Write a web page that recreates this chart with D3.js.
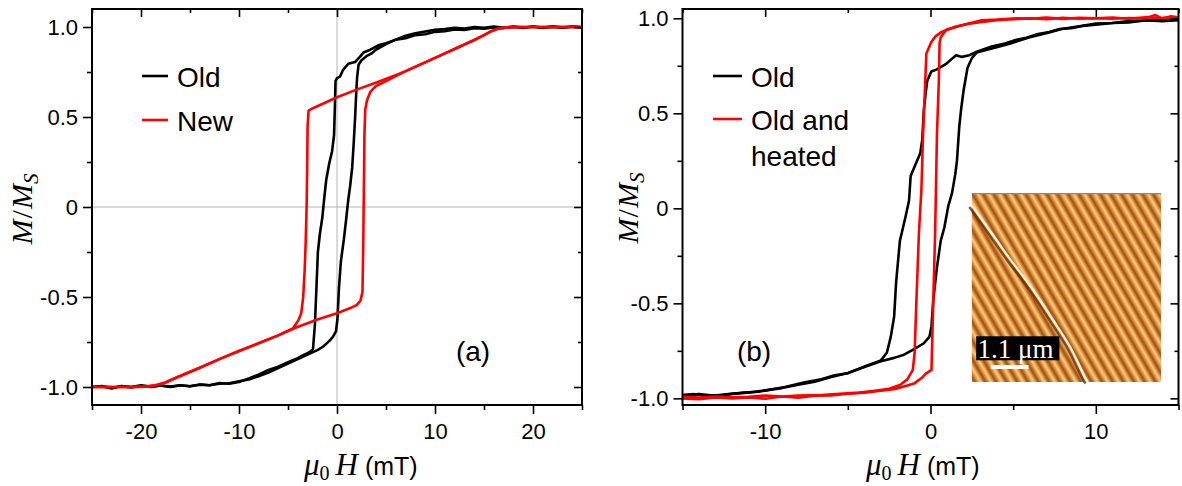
<!DOCTYPE html>
<html><head><meta charset="utf-8">
<script src="https://cdn.jsdelivr.net/npm/d3@7"></script>
<style>body{margin:0;background:#fff}svg{display:block}</style>
</head><body>
<svg id="c" width="1182" height="486"></svg>
<script>
// ---------- tick values / labels ----------
const yTicks = [-1, -0.5, 0, 0.5, 1];
const yTickLabels = ["-1.0", "-0.5", "0", "0.5", "1.0"];
const yMinor = [-0.75, -0.25, 0.25, 0.75];
const xTicksA = [-20, -10, 0, 10, 20];
const xTickLabelsA = ["-20", "-10", "0", "10", "20"];
const xMinorA = [-25, -15, -5, 5, 15, 25];
const xTicksB = [-10, 0, 10];
const xTickLabelsB = ["-10", "0", "10"];
const xMinorB = [-15, -5, 5, 15];
const legendA = ["Old", "New"];
const legendB = ["Old", "Old and", "heated"];

// ---------- panel (a) : Old (black), descending & ascending branches [H (mT), M/Ms] ----------
const oldA_down = [[25,0.998],[24,1.003],[23,0.996],[22,1.002],[21,0.997],[20,1.003],[19,0.995],[18,1.0],[17,0.994],[16,0.998],[15,0.99],[14,0.993],[13,0.984],[12,0.986],[11,0.976],[10,0.973],[9,0.96],[8,0.955],[7,0.938],[6,0.93],[5,0.91],[4.3,0.9],[3.4,0.874],[2.7,0.858],[2.35,0.835],[1.84,0.805],[1.15,0.796],[0.6,0.76],[0.3,0.724],[0.0,0.716],[-0.15,0.70],[-0.22,0.55],[-0.3,0.40],[-0.5,0.31],[-0.8,0.24],[-1.1,0.15],[-1.3,0.05],[-1.5,-0.06],[-1.75,-0.15],[-1.95,-0.25],[-2.1,-0.45],[-2.25,-0.65],[-2.45,-0.79],[-2.9,-0.81],[-3.5,-0.825],[-4,-0.84],[-5,-0.862],[-6,-0.887],[-7,-0.905],[-8,-0.932],[-9,-0.952],[-10,-0.972],[-11,-0.982],[-12,-0.978],[-13,-0.99],[-14,-0.986],[-15,-0.996],[-16,-0.99],[-17,-1.0],[-18,-0.992],[-19,-0.998],[-20,-0.99],[-21,-1.0],[-22,-0.994],[-23,-1.008],[-24,-0.996],[-25,-1.0]];
const oldA_up = [[-25,-1.0],[-24,-0.995],[-23,-1.004],[-22,-0.996],[-21,-1.002],[-20,-0.994],[-19,-1.0],[-18,-0.992],[-17,-0.998],[-16,-0.99],[-15,-0.996],[-14,-0.987],[-13,-0.99],[-12,-0.982],[-11,-0.979],[-10,-0.968],[-9,-0.958],[-8,-0.94],[-7,-0.92],[-6,-0.895],[-5,-0.87],[-4,-0.845],[-3,-0.82],[-2,-0.795],[-1.4,-0.775],[-0.8,-0.745],[-0.4,-0.72],[-0.1,-0.69],[0.05,-0.62],[0.2,-0.45],[0.4,-0.30],[0.7,-0.18],[0.95,-0.06],[1.15,0.04],[1.35,0.12],[1.55,0.22],[1.7,0.35],[1.85,0.5],[1.95,0.62],[2.05,0.72],[2.2,0.79],[2.5,0.815],[3.0,0.838],[3.5,0.852],[4,0.875],[5,0.905],[6,0.93],[7,0.952],[8,0.965],[9,0.975],[10,0.985],[11,0.988],[12,0.995],[13,0.992],[14,1.0],[15,0.995],[16,1.002],[17,0.996],[18,1.003],[19,0.997],[20,1.001],[21,0.995],[22,1.002],[23,0.998],[24,1.001],[25,0.998]];

// ---------- panel (a) : New (red) ----------
const newA_down = [[25,1.0],[21,1.0],[18.5,1.0],[17.2,0.997],[16.4,0.99],[15.8,0.978],[15,0.955],[13.9,0.925],[12.5,0.89],[10.4,0.838],[6.9,0.752],[4.1,0.693],[2,0.652],[0,0.61],[-2,0.56],[-2.5,0.548],[-2.9,0.535],[-3.0,0.45],[-3.05,0.2],[-3.1,0.0],[-3.2,-0.2],[-3.3,-0.35],[-3.45,-0.5],[-3.65,-0.59],[-3.95,-0.63],[-4.5,-0.675],[-6,-0.713],[-8,-0.757],[-10,-0.8],[-12,-0.845],[-14,-0.893],[-16.6,-0.953],[-17.5,-0.975],[-18.5,-0.99],[-19.5,-0.998],[-21,-1.0],[-25,-1.0]];
const newA_up = [[-25,-1.0],[-21,-1.0],[-19.5,-0.998],[-18.5,-0.99],[-17.5,-0.975],[-16.6,-0.953],[-14,-0.893],[-12,-0.845],[-10,-0.8],[-8,-0.757],[-6,-0.713],[-4.3,-0.672],[-2,-0.625],[0,-0.59],[1.5,-0.558],[2.0,-0.545],[2.4,-0.52],[2.6,-0.47],[2.68,-0.2],[2.74,0.1],[2.8,0.4],[2.88,0.54],[3.05,0.59],[3.4,0.64],[3.93,0.67],[5.2,0.705],[6.9,0.752],[10.4,0.838],[12.5,0.89],[13.9,0.925],[15,0.955],[15.8,0.978],[16.4,0.99],[17.2,0.997],[18.5,1.0],[21,1.0],[25,1.0]];

// ---------- panel (b) : Old (black) ----------
const oldB_down = [[15,0.99],[14,0.985],[13,0.99],[12,0.978],[11,0.975],[10,0.966],[9.2,0.96],[8.5,0.948],[7.8,0.944],[7.2,0.928],[6.5,0.917],[5.8,0.898],[5.2,0.887],[4.5,0.868],[3.7,0.852],[2.8,0.824],[2.35,0.806],[1.9,0.797],[1.55,0.806],[1.2,0.78],[0.95,0.76],[0.35,0.73],[0.05,0.72],[-0.2,0.67],[-0.3,0.6],[-0.4,0.52],[-0.5,0.36],[-0.62,0.29],[-0.96,0.22],[-1.2,0.17],[-1.3,0.04],[-1.5,-0.04],[-1.74,-0.13],[-1.85,-0.17],[-2.08,-0.39],[-2.2,-0.57],[-2.4,-0.675],[-2.64,-0.76],[-3.0,-0.80],[-3.9,-0.83],[-5.0,-0.868],[-5.8,-0.878],[-6.6,-0.90],[-7.6,-0.915],[-8.8,-0.94],[-10.4,-0.965],[-11.3,-0.97],[-12.2,-0.98],[-13.5,-0.986],[-14.3,-0.978],[-15,-0.982]];
const oldB_up = [[-15,-0.985],[-14,-0.978],[-13,-0.986],[-12,-0.975],[-11,-0.97],[-10,-0.958],[-9,-0.946],[-8,-0.928],[-7,-0.912],[-6,-0.888],[-5,-0.866],[-4,-0.835],[-3,-0.805],[-2.2,-0.787],[-1.6,-0.77],[-0.96,-0.74],[-0.4,-0.71],[-0.06,-0.675],[0.06,-0.62],[0.17,-0.48],[0.39,-0.31],[0.62,-0.17],[0.84,-0.10],[1.07,0.01],[1.3,0.08],[1.5,0.18],[1.6,0.25],[1.74,0.43],[1.85,0.52],[2.0,0.62],[2.24,0.74],[2.5,0.79],[2.8,0.82],[3.3,0.832],[4,0.848],[5,0.872],[6,0.9],[7,0.922],[8,0.945],[9,0.958],[10,0.972],[11,0.975],[12,0.985],[13,0.988],[14,0.995],[15,0.993]];

// ---------- panel (b) : Old and heated (red) ----------
const heatB_down = [[15,1.005],[14.5,1.01],[14,1.0],[13,1.006],[12,0.998],[11,1.004],[10,1.0],[9,1.003],[8,0.997],[7,1.004],[6,0.998],[5.2,1.0],[4,0.993],[3.1,0.99],[2.5,0.976],[1.75,0.96],[1.2,0.945],[0.7,0.93],[0.3,0.905],[0.05,0.875],[-0.25,0.815],[-0.35,0.6],[-0.45,0.39],[-0.55,0.1],[-0.7,-0.13],[-0.85,-0.48],[-0.96,-0.76],[-1.07,-0.85],[-1.4,-0.90],[-1.85,-0.93],[-2.5,-0.95],[-3.5,-0.962],[-4.3,-0.97],[-5.5,-0.976],[-6.6,-0.982],[-8,-0.985],[-9,-0.99],[-10,-0.985],[-11,-0.992],[-12,-0.995],[-13,-0.99],[-14,-0.996],[-15,-0.99]];
const heatB_up = [[-15,-1.0],[-14,-1.005],[-13,-0.995],[-12,-1.0],[-11,-0.995],[-10,-1.002],[-9,-0.99],[-8,-0.996],[-7,-0.986],[-6,-0.985],[-5,-0.976],[-4,-0.97],[-3,-0.96],[-2.1,-0.95],[-1.5,-0.935],[-0.96,-0.92],[-0.5,-0.89],[-0.28,-0.87],[0.06,-0.85],[0.17,-0.48],[0.28,-0.13],[0.39,0.39],[0.5,0.66],[0.55,0.87],[0.62,0.90],[0.95,0.94],[1.5,0.955],[2.2,0.97],[3,0.98],[4,0.99],[5,0.995],[6,1.0],[7,0.995],[8,1.003],[9,0.998],[10,1.0],[11,0.998],[12,1.002],[13,1.0],[13.6,1.017],[14,1.0],[15,1.005]];

// ---------- layout ----------
const svg = d3.select("#c");
const FONT = "'Liberation Sans', Arial, sans-serif";
const SERIF = "'Liberation Serif', 'Times New Roman', serif";

const defs = svg.append("defs");
const grad = defs.append("linearGradient").attr("id", "stripeGrad")
  .attr("x1", 0).attr("x2", 1).attr("y1", 0).attr("y2", 0);
[[0, "#9a4a14"], [0.18, "#c8772a"], [0.42, "#eeb560"], [0.55, "#f7cd7c"], [0.75, "#de9240"], [1, "#9a4a14"]]
  .forEach(s => grad.append("stop").attr("offset", s[0]).attr("stop-color", s[1]));
const pat = defs.append("pattern").attr("id", "stripes").attr("patternUnits", "userSpaceOnUse")
  .attr("width", 9.2).attr("height", 40).attr("patternTransform", "rotate(-30)");
pat.append("rect").attr("width", 9.2).attr("height", 40).attr("fill", "url(#stripeGrad)");

function panel(cfg) {
  const x = d3.scaleLinear().domain(cfg.xDomain).range([cfg.left, cfg.right]);
  const y = d3.scaleLinear().domain(cfg.yDomain).range([cfg.bottom, cfg.top]);
  const g = svg.append("g");
  const clipId = "clip" + cfg.name;
  defs.append("clipPath").attr("id", clipId).append("rect")
    .attr("x", cfg.left).attr("y", cfg.top)
    .attr("width", cfg.right - cfg.left).attr("height", cfg.bottom - cfg.top);

  if (cfg.zeroLines) {
    g.append("line").attr("x1", x(0)).attr("x2", x(0)).attr("y1", cfg.top).attr("y2", cfg.bottom)
      .attr("stroke", "#b4b4b4").attr("stroke-width", 1);
    g.append("line").attr("x1", cfg.left).attr("x2", cfg.right).attr("y1", y(0)).attr("y2", y(0))
      .attr("stroke", "#b4b4b4").attr("stroke-width", 1);
  }

  const line = d3.line().x(d => x(d[0])).y(d => y(d[1]));
  const cg = g.append("g").attr("clip-path", `url(#${clipId})`);
  cfg.series.forEach(s => {
    cg.append("path").datum(s.data).attr("d", line).attr("fill", "none")
      .attr("stroke", s.color).attr("stroke-width", 2.6)
      .attr("stroke-linejoin", "round").attr("stroke-linecap", "round");
  });

  if (cfg.inset) cfg.inset(g, x, y);

  const style = (ax) => {
    ax.select(".domain").remove();
    ax.selectAll("line").attr("stroke", "#000").attr("stroke-width", 1.6);
    ax.selectAll("text").attr("font-family", FONT).attr("font-size", 22).attr("fill", "#000");
  };
  g.append("g").attr("transform", `translate(0,${cfg.bottom})`)
    .call(d3.axisBottom(x).tickValues(cfg.xTicks).tickSize(9).tickPadding(9)
      .tickFormat((d, i) => cfg.xTickLabels[i]))
    .call(style);
  g.append("g").attr("transform", `translate(0,${cfg.bottom})`)
    .call(d3.axisBottom(x).tickValues(cfg.xMinor).tickSize(5).tickFormat(""))
    .call(style);
  g.append("g").attr("transform", `translate(0,${cfg.top})`)
    .call(d3.axisTop(x).tickValues(cfg.xTicks).tickSize(-8).tickFormat(""))
    .call(style);
  g.append("g").attr("transform", `translate(0,${cfg.top})`)
    .call(d3.axisTop(x).tickValues(cfg.xMinor).tickSize(-4).tickFormat(""))
    .call(style);
  g.append("g").attr("transform", `translate(${cfg.left},0)`)
    .call(d3.axisLeft(y).tickValues(yTicks).tickSize(9).tickPadding(5)
      .tickFormat((d, i) => yTickLabels[i]))
    .call(style);
  g.append("g").attr("transform", `translate(${cfg.left},0)`)
    .call(d3.axisLeft(y).tickValues(yMinor).tickSize(5).tickFormat(""))
    .call(style);
  g.append("g").attr("transform", `translate(${cfg.right},0)`)
    .call(d3.axisRight(y).tickValues(yTicks).tickSize(-8).tickFormat(""))
    .call(style);
  g.append("g").attr("transform", `translate(${cfg.right},0)`)
    .call(d3.axisRight(y).tickValues(yMinor).tickSize(-4).tickFormat(""))
    .call(style);

  g.append("rect").attr("x", cfg.left).attr("y", cfg.top)
    .attr("width", cfg.right - cfg.left).attr("height", cfg.bottom - cfg.top)
    .attr("fill", "none").attr("stroke", "#000").attr("stroke-width", 2);

  // y label  M/M_S
  const yl = g.append("text").attr("transform", `translate(${cfg.yLabelX},${cfg.yLabelY}) rotate(-90)`)
    .attr("text-anchor", "middle").attr("font-family", SERIF).attr("font-size", 30).attr("fill", "#000");
  yl.append("tspan").attr("font-style", "italic").text("M");
  yl.append("tspan").attr("dx", 1).text("/");
  yl.append("tspan").attr("font-style", "italic").attr("dx", 1).text("M");
  yl.append("tspan").attr("font-style", "italic").attr("font-size", 21).attr("dy", 6).text("S");

  // x label  μ0H (mT)
  const xl = g.append("text").attr("x", cfg.xLabelX).attr("y", cfg.xLabelY)
    .attr("font-family", SERIF).attr("font-size", 31).attr("fill", "#000");
  xl.append("tspan").attr("font-style", "italic").text("μ");
  xl.append("tspan").attr("font-size", 20).attr("dy", 5).text("0");
  xl.append("tspan").attr("font-style", "italic").attr("dy", -5).attr("dx", 6).text("H");
  xl.append("tspan").attr("font-family", FONT).attr("font-size", 25).attr("dx", 7).text("(mT)");

  cfg.legend.forEach(L => {
    g.append("line").attr("x1", L.x1).attr("x2", L.x2).attr("y1", L.y).attr("y2", L.y)
      .attr("stroke", L.color).attr("stroke-width", 2.6);
    L.text.forEach((t, i) => {
      g.append("text").attr("x", L.x2 + 9).attr("y", L.y + 11 + i * 36)
        .attr("font-family", FONT).attr("font-size", 28).attr("fill", "#000").text(t);
    });
  });

  g.append("text").attr("x", cfg.tagX).attr("y", cfg.tagY).attr("text-anchor", "middle")
    .attr("font-family", FONT).attr("font-size", 28).attr("fill", "#000").text(cfg.tag);
}

panel({
  name: "a", left: 92, right: 582, top: 9, bottom: 405,
  xDomain: [-25, 25], yDomain: [-1.1, 1.1],
  xTicks: xTicksA, xTickLabels: xTickLabelsA, xMinor: xMinorA, zeroLines: true,
  series: [{data: oldA_down, color: "#000"}, {data: oldA_up, color: "#000"},
           {data: newA_down, color: "#ff0000"}, {data: newA_up, color: "#ff0000"}],
  yLabelX: 32, yLabelY: 209, xLabelX: 304, xLabelY: 475,
  legend: [{x1: 142, x2: 168, y: 76, color: "#000", text: [legendA[0]]},
           {x1: 142, x2: 168, y: 120, color: "#ff0000", text: [legendA[1]]}],
  tag: "(a)", tagX: 473, tagY: 361
});

panel({
  name: "b", left: 682.5, right: 1178.5, top: 9, bottom: 405,
  xDomain: [-15, 15], yDomain: [-1.035, 1.049],
  xTicks: xTicksB, xTickLabels: xTickLabelsB, xMinor: xMinorB, zeroLines: false,
  series: [{data: oldB_down, color: "#000"}, {data: oldB_up, color: "#000"},
           {data: heatB_down, color: "#ff0000"}, {data: heatB_up, color: "#ff0000"}],
  yLabelX: 638, yLabelY: 208, xLabelX: 866, xLabelY: 475,
  legend: [{x1: 713, x2: 742, y: 76, color: "#000", text: [legendB[0]]},
           {x1: 713, x2: 742, y: 119, color: "#ff0000", text: [legendB[1], legendB[2]]}],
  tag: "(b)", tagX: 754, tagY: 361,
  inset: (g, x, y) => {
    const x0 = x(2.5), x1 = x(13.94), y0 = y(0.08), y1 = y(-0.914);
    const w = x1 - x0, h = y1 - y0;
    const ig = g.append("g");
    ig.append("rect").attr("x", x0).attr("y", y0).attr("width", w).attr("height", h).attr("fill", "url(#stripes)");
    const defect = [[0, 0.065], [0.114, 0.224], [0.2, 0.347], [0.326, 0.515], [0.431, 0.674], [0.52, 0.815], [0.607, 0.99], [0.615, 1.0]];
    const dl = d3.line().curve(d3.curveCatmullRom).x(d => x0 + d[0] * w).y(d => y0 + d[1] * h);
    ig.append("path").datum(defect).attr("d", dl).attr("fill", "none").attr("stroke", "#5e2606")
      .attr("stroke-width", 2.5).attr("transform", "translate(-2.5,1.5)").attr("opacity", 0.75);
    ig.append("path").datum(defect).attr("d", dl).attr("fill", "none").attr("stroke", "#fff6e0").attr("stroke-width", 2.2);
    ig.append("line").attr("x1", x0).attr("x2", x1).attr("y1", y0 + 0.5).attr("y2", y0 + 0.5)
      .attr("stroke", "#8a8a8a").attr("stroke-width", 1.2);
    ig.append("rect").attr("x", x0 + 0.023 * w).attr("y", y0 + 0.758 * h)
      .attr("width", 0.44 * w).attr("height", 0.127 * h).attr("fill", "#000");
    ig.append("text").attr("x", x0 + 0.03 * w).attr("y", y0 + 0.872 * h)
      .attr("font-family", SERIF).attr("font-size", 27).attr("fill", "#fff").text("1.1 μm");
    ig.append("rect").attr("x", x0 + 0.1 * w).attr("y", y0 + 0.91 * h)
      .attr("width", 0.2 * w).attr("height", 4).attr("fill", "#fff");
  }
});
</script>
</body></html>
